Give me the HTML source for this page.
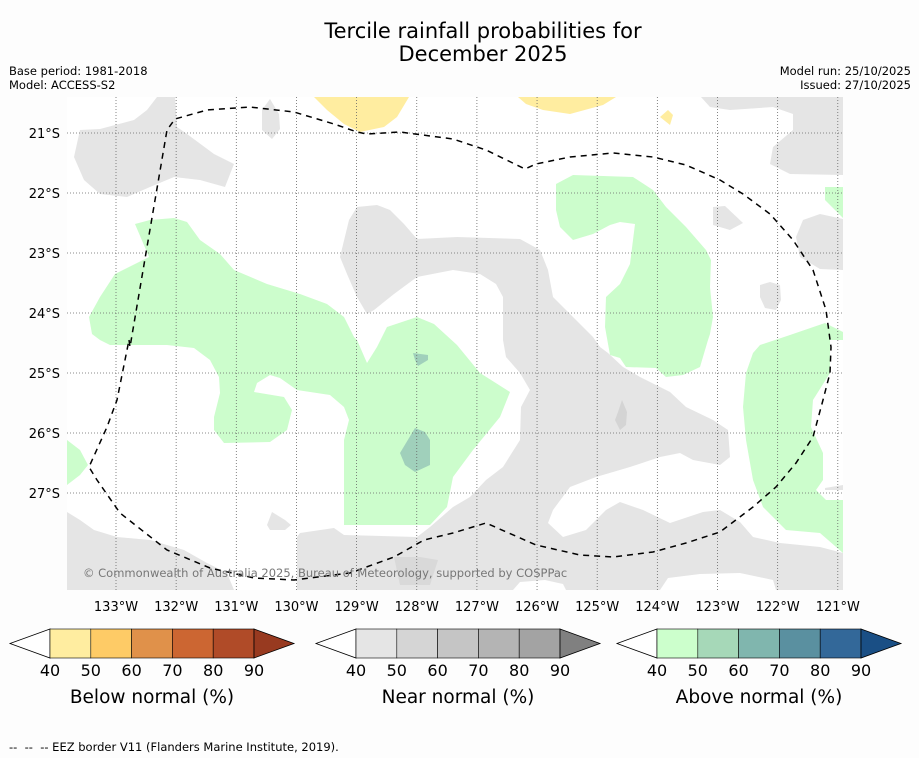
<!DOCTYPE html>
<html><head><meta charset="utf-8">
<style>
body{margin:0;background:#fdfdfd;}
svg{display:block;font-family:"DejaVu Sans","Liberation Sans",sans-serif;}
</style></head>
<body>
<svg id="chart" width="919" height="758" viewBox="0 0 919 758" xmlns="http://www.w3.org/2000/svg">
<rect width="919" height="758" fill="#fdfdfd"/>
<text x="483" y="38" font-size="21" text-anchor="middle">Tercile rainfall probabilities for</text>
<text x="483" y="61" font-size="21" text-anchor="middle">December 2025</text>
<text x="9" y="75" font-size="11.5">Base period: 1981-2018</text>
<text x="9" y="89" font-size="11.5">Model: ACCESS-S2</text>
<text x="911" y="75" font-size="11.5" text-anchor="end">Model run: 25/10/2025</text>
<text x="911" y="89" font-size="11.5" text-anchor="end">Issued: 27/10/2025</text>

<defs><clipPath id="mapclip"><rect x="67" y="97" width="776" height="493"/></clipPath></defs>
<g id="map" clip-path="url(#mapclip)">
<rect x="67" y="97" width="776" height="493" fill="#ffffff"/>
<polygon fill="#e5e5e5" points="74,157 80,130 100,129 134,120 147,110 157,97 175,97 177,127 187,134 214,154 234,164 225,187 200,180 174,177 150,187 127,197 100,194 84,180"/>
<polygon fill="#e5e5e5" points="262,110 270,99 279,114 280,129 272,139 262,130"/>
<polygon fill="#e5e5e5" points="701,97 843,97 843,175 790,174 770,164 773,147 793,130 793,114 773,107 730,110 710,107"/>
<polygon fill="#e5e5e5" points="713,207 725,206 743,223 730,230 713,225"/>
<polygon fill="#e5e5e5" points="820,214 843,219 843,270 820,269 800,257 796,237 803,220"/>
<polygon fill="#e5e5e5" points="760,285 770,282 780,285 781,300 776,310 765,308 760,297"/>
<polygon fill="#e5e5e5" points="340,257 349,220 357,207 377,205 390,210 404,224 417,239 457,237 520,239 540,250 548,270 553,297 573,317 593,337 600,347 608,353 623,367 640,377 670,392 686,407 713,420 728,430 730,457 720,465 693,460 680,453 660,457 630,467 596,477 570,487 553,510 548,523 563,537 586,530 606,510 620,502 643,510 670,523 703,512 720,510 740,522 753,537 780,543 820,547 843,553 843,590 297,590 297,537 300,533 334,528 344,535 417,537 430,527 453,507 470,497 486,480 503,467 520,440 521,407 530,390 520,373 506,357 503,340 503,297 496,284 480,274 453,270 417,277 394,294 374,310 367,314 357,297 347,274"/>
<polygon fill="#e5e5e5" points="67,512 80,520 94,530 117,537 150,540 184,550 207,563 227,573 234,590 67,590"/>
<polygon fill="#e5e5e5" points="267,525 272,512 285,520 291,525 285,530 270,530"/>
<polygon fill="#e5e5e5" points="825,488 843,485 843,490 825,490"/>
<polygon fill="#d9d9d9" points="394,557 420,557 438,560 430,585 400,585"/>
<polygon fill="#d4d4d4" points="618,412 622,400 627,412 626,425 620,430 615,420"/>
<polygon fill="#ffffff" points="513,590 520,582 545,580 563,584 566,590"/>
<polygon fill="#ffffff" points="660,590 668,578 700,574 740,573 773,580 776,590"/>
<polygon fill="#ffeda0" points="314,97 409,97 397,117 384,127 360,132 344,124 327,110"/>
<polygon fill="#ffeda0" points="518,97 616,97 603,105 570,114 543,110 526,104"/>
<polygon fill="#ffeda0" points="660,117 668,110 673,115 670,125"/>
<polygon fill="#ccfdcc" points="135,224 150,220 174,218 187,222 200,240 220,254 234,270 267,284 300,294 327,304 344,317 354,337 357,340 367,363 377,347 387,327 417,317 434,324 457,345 480,373 510,392 500,417 473,450 453,477 447,507 430,525 344,525 344,440 349,420 344,407 330,395 297,390 280,378 270,375 257,383 254,392 284,397 292,410 287,430 270,442 224,443 214,430 214,417 220,393 219,377 210,360 194,348 167,345 110,345 100,340 92,334 89,317 100,297 115,274 149,257"/>
<polygon fill="#ccfdcc" points="556,184 573,175 633,177 653,190 666,207 686,227 706,250 711,260 710,287 713,317 710,334 708,340 700,367 683,375 666,377 656,368 626,367 620,358 610,355 605,327 606,297 620,284 630,264 635,224 620,222 610,225 593,234 573,240 560,227 556,210"/>
<polygon fill="#ccfdcc" points="760,345 790,335 825,323 843,332 843,340 830,340 830,373 813,400 811,427 823,453 823,480 816,490 826,500 843,500 843,553 820,533 786,530 763,507 753,480 746,440 743,407 746,373 753,353"/>
<polygon fill="#ccfdcc" points="825,187 843,187 843,218 835,210 825,200"/>
<polygon fill="#ccfdcc" points="67,440 80,450 88,465 80,475 67,485"/>
<polygon fill="#a0d0bb" points="400,453 415,428 425,432 430,440 430,465 415,472 405,465"/>
<polygon fill="#a0d0bb" points="413,353 428,355 428,360 418,366 415,360"/>
<g id="grid"></g>
<polyline fill="none" stroke="#000" stroke-width="1.5" stroke-dasharray="6,5" points="129,340 130,347 147,247 167,130 175,119 207,110 250,107 294,112 334,124 357,132 367,134 400,132 453,139 486,150 525,169 536,164 570,157 613,153 653,157 686,165 720,180 743,194 770,214 793,240 813,270 826,310 831,347 830,373 823,400 813,437 796,463 776,487 753,507 720,532 686,543 653,552 613,557 580,555 536,545 486,523 453,533 424,540 394,557 350,573 294,580 254,578 210,568 167,550 120,513 97,480 89,467 107,427 117,400 129,340"/>
<text x="83" y="577" font-size="11.5" fill="#777">© Commonwealth of Australia 2025, Bureau of Meteorology, supported by COSPPac</text>
</g>
<g id="axes"></g>
<g id="colorbars"></g>
<text x="9" y="751" font-size="11.5" xml:space="preserve">--  --  -- EEZ border V11 (Flanders Marine Institute, 2019).</text>
</svg>
<script>
const lonTicks = [133,132,131,130,129,128,127,126,125,124,123,122,121];
const latTicks = [21,22,23,24,25,26,27];
const cbTicks = ["40","50","60","70","80","90"];
const cbTitles = ["Below normal (%)","Near normal (%)","Above normal (%)"];
const belowColors = ["#ffeda0","#fecb66","#e0914a","#cc6632","#b04b28","#983a20"];
const nearColors = ["#e5e5e5","#d5d5d5","#c5c5c5","#b4b4b4","#a3a3a3","#808080"];
const aboveColors = ["#ccffcc","#a6d8b8","#80b6ae","#5a90a0","#336899","#1a4f85"];

const NS="http://www.w3.org/2000/svg";
const xLon = lon => 116 + (133 - lon) * 60.15;
const yLat = lat => 133 + (lat - 21) * 60;
function mk(tag, attrs, parent){const e=document.createElementNS(NS,tag);for(const k in attrs)e.setAttribute(k,attrs[k]);parent.appendChild(e);return e;}

const grid=document.getElementById('grid');
const axes=document.getElementById('axes');
lonTicks.forEach(lon=>{
  const x=xLon(lon);
  const l=mk('line',{x1:x,x2:x,y1:97,y2:590,stroke:'#666','stroke-width':0.8,'stroke-dasharray':'1,2'},grid);
  
  
  const t=mk('text',{x:x,y:611,'font-size':13,'text-anchor':'middle'},axes);
  t.textContent=lon+'°W';
  
  
});
latTicks.forEach(lat=>{
  const y=yLat(lat);
  const l=mk('line',{x1:67,x2:843,y1:y,y2:y,stroke:'#666','stroke-width':0.8,'stroke-dasharray':'1,2'},grid);
  
  
  const t=mk('text',{x:60,y:y+5,'font-size':13,'text-anchor':'end'},axes);
  t.textContent=lat+'°S';
  
  
});

const cbg=document.getElementById('colorbars');
const cbX=[50,356,657];
const cbSets=[belowColors,nearColors,aboveColors];
cbSets.forEach((cols,i)=>{
  const x0=cbX[i], w=40.8, y0=629, h=29, n=cbTicks.length-1;
  const g=mk('g',{},cbg);
  
  
  const lt=mk('polygon',{points:`${x0},${y0} ${x0-40},${y0+h/2} ${x0},${y0+h}`,fill:'#fff',stroke:'#000','stroke-width':0.8},g);
  
  
  for(let k=0;k<n;k++){
    const r=mk('rect',{x:x0+k*w,y:y0,width:w,height:h,fill:cols[k],stroke:'#000','stroke-width':0.6},g);
    
    
  }
  const xe=x0+n*w;
  const rt=mk('polygon',{points:`${xe},${y0} ${xe+40},${y0+h/2} ${xe},${y0+h}`,fill:cols[n],stroke:'#000','stroke-width':0.8},g);
  
  
  cbTicks.forEach((tk,k)=>{
    const t=mk('text',{x:x0+k*w,y:676,'font-size':16,'text-anchor':'middle'},g);
    t.textContent=tk;
    
    
  });
  const tt=mk('text',{x:x0+n*w/2,y:703,'font-size':18.5,'text-anchor':'middle'},g);
  tt.textContent=cbTitles[i];
  
  
});
</script>
</body></html>
